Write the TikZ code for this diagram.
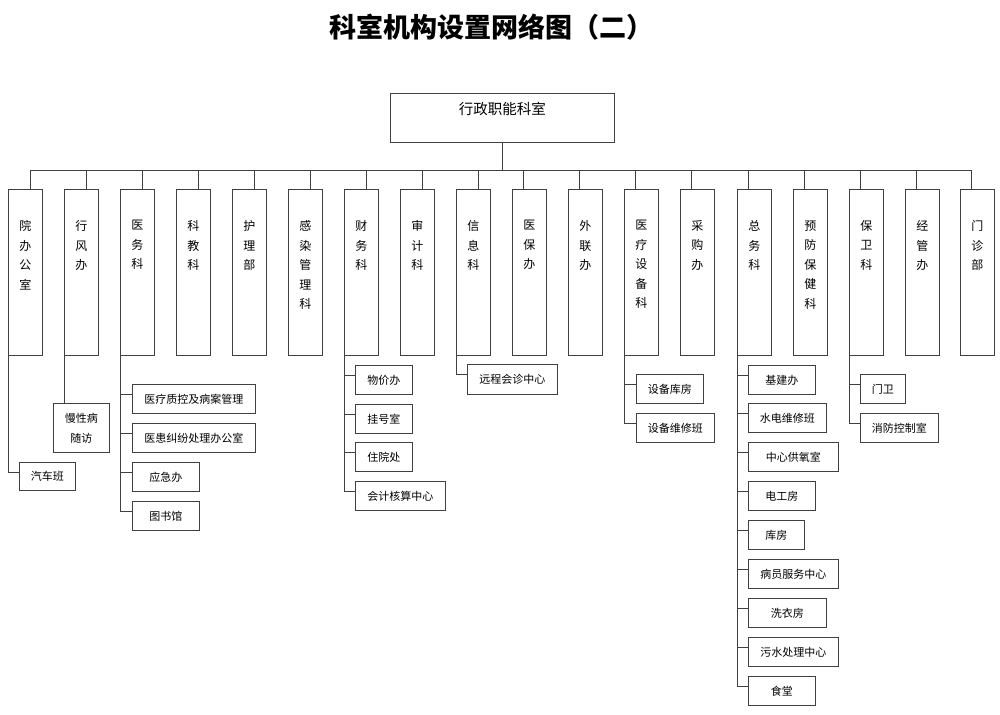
\documentclass[tikz,border=0pt]{standalone}
\usepackage{fontspec}
\setmainfont{Noto Sans CJK SC}
\newcommand{\vtxt}[1]{\parbox[c][166pt][t]{34pt}{\centering\vspace*{31pt}\fontsize{12pt}{19.5pt}\selectfont #1\par}}
\newcommand{\toptxt}[1]{\parbox[c][49pt][t]{224pt}{\centering\vspace*{9pt}\fontsize{14.5pt}{18pt}\selectfont #1\par}}
\tikzset{
  ln/.style={draw=black!75, line width=0.9pt},
  colbox/.style={ln, inner sep=0pt, anchor=north west, minimum width=34pt, minimum height=166pt},
  subbox/.style={ln, inner sep=0pt, anchor=north west, minimum height=29pt, font=\fontsize{11pt}{14pt}\selectfont},
  topbox/.style={ln, inner sep=0pt, anchor=north west, minimum width=224pt, minimum height=49pt},
  conn/.style={ln}
}
\begin{document}
\begin{tikzpicture}[x=1pt,y=-1pt]
\useasboundingbox (0,0) rectangle (1000,714);
% title
\node[font=\fontsize{27pt}{30pt}\selectfont\bfseries] (title) at (491,27) {科室机构设置网络图（二）};
% top node
\node[topbox] (top) at (390,93) {\toptxt{行政职能科室}};
\coordinate (busL) at (30,170);
\coordinate (busR) at (972,170);
\draw[conn] (busL) -- (busR);
\draw[conn] (top.south) -- (top.south |- busL);
% column boxes
\node[colbox] (b0) at (8,189) {\vtxt{院\\办\\公\\室}};
\node[colbox] (b1) at (64,189) {\vtxt{行\\风\\办}};
\node[colbox] (b2) at (120,189) {\vtxt{医\\务\\科}};
\node[colbox] (b3) at (176,189) {\vtxt{科\\教\\科}};
\node[colbox] (b4) at (232,189) {\vtxt{护\\理\\部}};
\node[colbox] (b5) at (288,189) {\vtxt{感\\染\\管\\理\\科}};
\node[colbox] (b6) at (344,189) {\vtxt{财\\务\\科}};
\node[colbox] (b7) at (400,189) {\vtxt{审\\计\\科}};
\node[colbox] (b8) at (456,189) {\vtxt{信\\息\\科}};
\node[colbox] (b9) at (512,189) {\vtxt{医\\保\\办}};
\node[colbox] (b10) at (568,189) {\vtxt{外\\联\\办}};
\node[colbox] (b11) at (624,189) {\vtxt{医\\疗\\设\\备\\科}};
\node[colbox] (b12) at (680,189) {\vtxt{采\\购\\办}};
\node[colbox] (b13) at (737,189) {\vtxt{总\\务\\科}};
\node[colbox] (b14) at (793,189) {\vtxt{预\\防\\保\\健\\科}};
\node[colbox] (b15) at (849,189) {\vtxt{保\\卫\\科}};
\node[colbox] (b16) at (905,189) {\vtxt{经\\管\\办}};
\node[colbox] (b17) at (960,189) {\vtxt{门\\诊\\部}};
% drops from bus
\foreach \i in {0,...,8} {
  \draw[conn] ([xshift=5pt]b\i.north) -- ([xshift=5pt]b\i.north |- busL);
}
\foreach \i in {9,...,17} {
  \draw[conn] ([xshift=-6pt]b\i.north) -- ([xshift=-6pt]b\i.north |- busL);
}
% sub boxes
\node[subbox, minimum width=56pt, minimum height=28pt] (s00) at (19,462) {汽车班};
\node[subbox, minimum width=56pt, minimum height=49pt, align=center, font=\fontsize{11pt}{20pt}\selectfont] (s10) at (53,403) {慢性病\\随访};
\node[subbox, minimum width=123pt] (s20) at (132,384) {医疗质控及病案管理};
\node[subbox, minimum width=123pt] (s21) at (132,423) {医患纠纷处理办公室};
\node[subbox, minimum width=67pt] (s22) at (132,462) {应急办};
\node[subbox, minimum width=67pt] (s23) at (132,501) {图书馆};
\node[subbox, minimum width=57pt] (s60) at (355,365) {物价办};
\node[subbox, minimum width=57pt] (s61) at (355,404) {挂号室};
\node[subbox, minimum width=57pt] (s62) at (355,442) {住院处};
\node[subbox, minimum width=90pt] (s63) at (355,481) {会计核算中心};
\node[subbox, minimum width=90pt, minimum height=30pt] (s80) at (467,364) {远程会诊中心};
\node[subbox, minimum width=67pt] (s110) at (636,374) {设备库房};
\node[subbox, minimum width=78pt] (s111) at (636,413) {设备维修班};
\node[subbox, minimum width=67pt] (s130) at (748,365) {基建办};
\node[subbox, minimum width=78pt] (s131) at (748,403) {水电维修班};
\node[subbox, minimum width=90pt] (s132) at (748,442) {中心供氧室};
\node[subbox, minimum width=67pt] (s133) at (748,481) {电工房};
\node[subbox, minimum width=56pt] (s134) at (748,520) {库房};
\node[subbox, minimum width=90pt] (s135) at (748,559) {病员服务中心};
\node[subbox, minimum width=78pt] (s136) at (748,598) {洗衣房};
\node[subbox, minimum width=90pt] (s137) at (748,637) {污水处理中心};
\node[subbox, minimum width=67pt] (s138) at (748,676) {食堂};
\node[subbox, minimum width=45pt] (s150) at (860,374) {门卫};
\node[subbox, minimum width=78pt] (s151) at (860,413) {消防控制室};
% branch connectors
\draw[conn] ([yshift=4pt]s00.west) -| (b0.south west);
\draw[conn] (b1.south west) -- (b1.south west |- s10.north);
\foreach \s in {s20,s21,s22,s23} { \draw[conn] ([yshift=5pt]\s.west) -| (b2.south west); }
\foreach \s in {s60,s61,s62,s63} { \draw[conn] ([yshift=5pt]\s.west) -| (b6.south west); }
\draw[conn] ([yshift=5pt]s80.west) -| (b8.south west);
\foreach \s in {s110,s111} { \draw[conn] ([yshift=5pt]\s.west) -| (b11.south west); }
\foreach \s in {s130,s131,s132,s133,s134,s135,s136,s137,s138} { \draw[conn] ([yshift=5pt]\s.west) -| (b13.south west); }
\foreach \s in {s150,s151} { \draw[conn] ([yshift=5pt]\s.west) -| (b15.south west); }
\end{tikzpicture}
\end{document}
